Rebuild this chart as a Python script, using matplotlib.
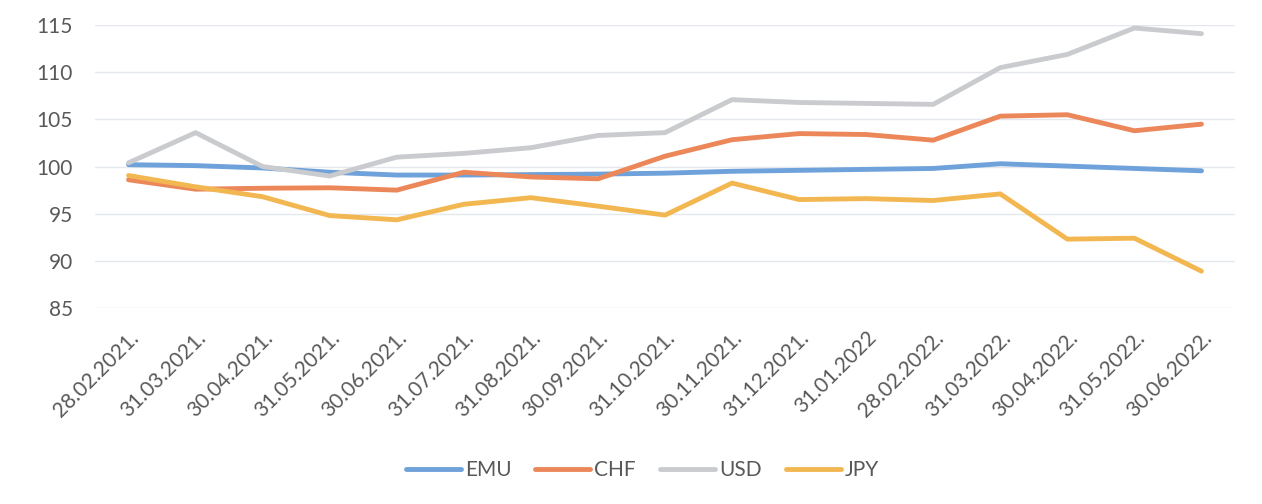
import matplotlib
matplotlib.use("Agg")
import matplotlib.pyplot as plt

dates = ["28.02.2021.", "31.03.2021.", "30.04.2021.", "31.05.2021.", "30.06.2021.",
         "31.07.2021.", "31.08.2021.", "30.09.2021.", "31.10.2021.", "30.11.2021.",
         "31.12.2021.", "31.01.2022", "28.02.2022.", "31.03.2022.", "30.04.2022.",
         "31.05.2022.", "30.06.2022."]
emu = [100.2, 100.1, 99.85, 99.4, 99.1, 99.1, 99.15, 99.2, 99.3, 99.5, 99.6, 99.7, 99.8, 100.3, 100.05, 99.8, 99.55]
chf = [98.6, 97.6, 97.7, 97.75, 97.5, 99.4, 98.9, 98.7, 101.1, 102.85, 103.5, 103.4, 102.8, 105.35, 105.5, 103.8, 104.5]
usd = [100.4, 103.6, 100.0, 99.0, 101.0, 101.4, 102.0, 103.3, 103.6, 107.1, 106.8, 106.7, 106.6, 110.5, 111.9, 114.7, 114.1]
jpy = [99.05, 97.85, 96.8, 94.8, 94.35, 96.0, 96.7, 95.8, 94.85, 98.25, 96.5, 96.6, 96.4, 97.1, 92.3, 92.4, 88.9]
series_names = ["EMU", "CHF", "USD", "JPY"]
yticks = [85, 90, 95, 100, 105, 110, 115]

colors = ["#6FA1DA", "#EC875A", "#C9CBCE", "#F3B751"]

plt.rcParams['font.family'] = ['Lato', 'DejaVu Sans']

fig = plt.figure(figsize=(12.62, 5.04), dpi=100)
ax = fig.add_axes([0.0753, 0.389, 0.9033, 0.561])

x = list(range(len(dates)))
for vals, name, c in zip([emu, chf, usd, jpy], series_names, colors):
    ax.plot(x, vals, color=c, lw=3.5, label=name, solid_joinstyle='round',
            solid_capstyle='round')

ax.set_xlim(-0.5, len(dates) - 0.5)
ax.set_ylim(85, 115)
ax.set_yticks(yticks)
ax.set_yticklabels([str(v) for v in yticks], fontsize=15, color="#595959")
ax.set_xticks(x)
ax.set_xticklabels(dates, rotation=45, ha='right', rotation_mode='anchor',
                   fontsize=15, color="#595959")
ax.tick_params(axis='both', length=0)
ax.tick_params(axis='x', pad=14)
ax.tick_params(axis='y', pad=16)
ax.grid(axis='y', color="#E4E8EC", lw=1)
ax.set_axisbelow(True)
for s in ax.spines.values():
    s.set_visible(False)

fig.legend(loc='center', bbox_to_anchor=(0.509, 0.067), ncol=4, frameon=False,
           fontsize=15, handlelength=2.64, handletextpad=0.2, columnspacing=1.15,
           labelcolor="#595959")

fig.savefig("out.png", dpi=100, facecolor="white")
